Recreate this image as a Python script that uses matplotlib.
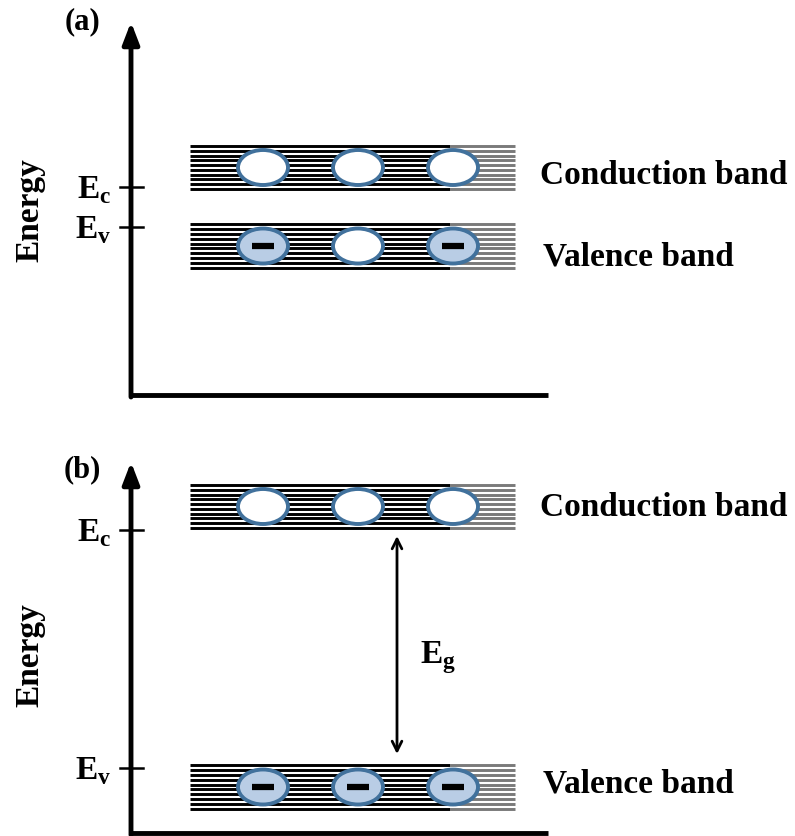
import matplotlib.pyplot as plt
from matplotlib.patches import Ellipse
import numpy as np

# figure geometry (pixel coordinates, y grows downward)
W, H = 795, 836

# energy axes: (x of axis, top arrow tip, bottom/x-axis level, x-axis end)
axis_x = 131
panel_top = [22, 462]
panel_base = [395, 833]
axis_end = 548

# band edges: top line, bottom line of each stack of levels
cb_top = [146, 485]
cb_bot = [189, 528]
vb_top = [224, 765]
vb_bot = [268, 809]
n_levels = 10
band_x0, band_x1, band_grey = 190, 515, 450

# tick levels for Ec and Ev
ec_level = [187, 530]
ev_level = [227, 768]

# carriers sitting in each band: 1 = electron, 0 = empty state
carrier_x = [263, 358, 453]
cb_carriers = [[0, 0, 0], [0, 0, 0]]
vb_carriers = [[1, 0, 1], [1, 1, 1]]

# label placement
cb_text_y = [176, 508]
vb_text_y = [257, 784]
panel_labels = ['(a)', '(b)']
label_y = [22, 470]
energy_y = [210, 655]

edge_blue = '#41719c'
fill_blue = '#b9cde5'

plt.rcParams['font.family'] = ['Liberation Serif', 'DejaVu Serif']
plt.rcParams['font.weight'] = 'bold'
plt.rcParams['mathtext.fontset'] = 'custom'
plt.rcParams['mathtext.rm'] = 'Liberation Serif:bold'
plt.rcParams['mathtext.bf'] = 'Liberation Serif:bold'

fig = plt.figure(figsize=(W / 100, H / 100), dpi=100)
ax = fig.add_axes([0, 0, 1, 1])
ax.set_xlim(0, W)
ax.set_ylim(H, 0)
ax.axis('off')


def draw_band(top, bot, carriers):
    ys = np.linspace(top, bot, n_levels)
    for y in ys:
        ax.plot([band_x0, band_grey], [y, y], color='black', lw=2.1,
                solid_capstyle='butt')
        ax.plot([band_grey, band_x1], [y, y], color='#7a7a7a', lw=2.1,
                solid_capstyle='butt')
    yc = (top + bot) / 2
    for x, c in zip(carrier_x, carriers):
        ax.add_patch(Ellipse((x, yc), 50, 35, facecolor=fill_blue if c else 'white',
                             edgecolor=edge_blue, lw=2.8, zorder=3))
        if c:
            ax.plot([x - 11, x + 11], [yc, yc], color='black', lw=4.5,
                    solid_capstyle='butt', zorder=4)


for i in range(2):
    # energy axis with arrow head and horizontal base line
    ax.annotate('', xy=(axis_x, panel_top[i]), xytext=(axis_x, panel_base[i] + 2),
                arrowprops=dict(arrowstyle='-|>,head_length=1.3,head_width=0.5',
                                color='black', lw=3.5, shrinkA=0, shrinkB=0))
    ax.plot([axis_x - 1.5, axis_end], [panel_base[i], panel_base[i]], color='black',
            lw=3.5, solid_capstyle='butt')

    for lvl, name in zip([ec_level[i], ev_level[i]], ['c', 'v']):
        ax.plot([axis_x - 11, axis_x + 12], [lvl, lvl], color='black', lw=1.8)
        ax.text(axis_x - 20, lvl + 3, r'E$_{\mathbf{%s}}$' % name, ha='right', va='center',
                fontsize=24)

    draw_band(cb_top[i], cb_bot[i], cb_carriers[i])
    draw_band(vb_top[i], vb_bot[i], vb_carriers[i])

    ax.text(540, cb_text_y[i], 'Conduction band', ha='left', va='center', fontsize=24)
    ax.text(543, vb_text_y[i], 'Valence band', ha='left', va='center', fontsize=24)

    ax.text(82, label_y[i], panel_labels[i], ha='center', va='center', fontsize=22)
    ax.text(30, energy_y[i], 'Energy', ha='center', va='center', rotation=90,
            fontsize=24)

# band gap arrow in panel (b)
ax.annotate('', xy=(397, 536), xytext=(397, 754),
            arrowprops=dict(arrowstyle='<->,head_length=0.7,head_width=0.35',
                            color='black', lw=2.0, shrinkA=0, shrinkB=0))
ax.text(420, 658, r'E$_{\mathbf{g}}$', ha='left', va='center', fontsize=24)

fig.savefig('out.png', dpi=100)
